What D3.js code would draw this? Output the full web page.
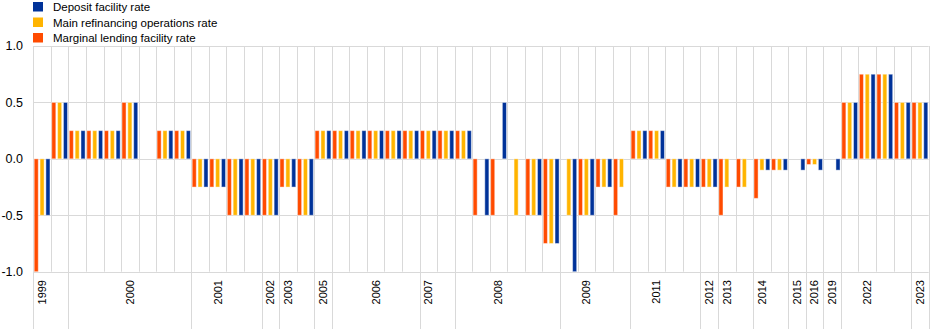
<!DOCTYPE html>
<html>
<head>
<meta charset="utf-8">
<script src="https://cdn.jsdelivr.net/npm/d3@7"></script>
<style>
  body { margin: 0; background: #fff; }
  text { font-family: "Liberation Sans", Arial, sans-serif; fill: #000; }
</style>
</head>
<body>
<div id="chart"></div>
<script>
// one entry per rate decision (percentage point change)
const years = [1999, 1999, 2000, 2000, 2000, 2000, 2000, 2000, 2000,
  2001, 2001, 2001, 2001, 2002, 2003, 2003, 2005,
  2006, 2006, 2006, 2006, 2006, 2007, 2007,
  2008, 2008, 2008, 2008, 2008, 2008, 2009, 2009, 2009, 2009,
  2011, 2011, 2011, 2011, 2012, 2013, 2013, 2014, 2014, 2015, 2016, 2019,
  2022, 2022, 2022, 2022, 2023];
const marginalLending = [-1.0, 0.5, 0.25, 0.25, 0.25, 0.5, 0, 0.25, 0.25,
  -0.25, -0.25, -0.5, -0.5, -0.5, -0.25, -0.5, 0.25,
  0.25, 0.25, 0.25, 0.25, 0.25, 0.25, 0.25,
  0.25, -0.5, -0.5, 0, -0.5, -0.75, 0, -0.5, -0.25, -0.5,
  0.25, 0.25, -0.25, -0.25, -0.25, -0.5, -0.25, -0.35, -0.1, 0, -0.05, 0,
  0.5, 0.75, 0.75, 0.5, 0.5];
const mainRefinancing = [-0.5, 0.5, 0.25, 0.25, 0.25, 0.5, 0, 0.25, 0.25,
  -0.25, -0.25, -0.5, -0.5, -0.5, -0.25, -0.5, 0.25,
  0.25, 0.25, 0.25, 0.25, 0.25, 0.25, 0.25,
  0.25, 0, 0, -0.5, -0.5, -0.75, -0.5, -0.5, -0.25, -0.25,
  0.25, 0.25, -0.25, -0.25, -0.25, -0.25, -0.25, -0.1, -0.1, 0, -0.05, 0,
  0.5, 0.75, 0.75, 0.5, 0.5];
const depositFacility = [-0.5, 0.5, 0.25, 0.25, 0.25, 0.5, 0, 0.25, 0.25,
  -0.25, -0.25, -0.5, -0.5, -0.5, -0.25, -0.5, 0.25,
  0.25, 0.25, 0.25, 0.25, 0.25, 0.25, 0.25,
  0.25, -0.5, 0.5, 0, -0.5, -0.75, -1.0, -0.5, -0.25, 0,
  0.25, 0.25, -0.25, -0.25, -0.25, 0, 0, -0.1, -0.1, -0.1, -0.1, -0.1,
  0.5, 0.75, 0.75, 0.5, 0.5];
const yTicks = [1.0, 0.5, 0.0, -0.5, -1.0];

const seriesNames = ["Deposit facility rate", "Main refinancing operations rate", "Marginal lending facility rate"];
const seriesColors = { "Deposit facility rate": "#003299", "Main refinancing operations rate": "#ffb400", "Marginal lending facility rate": "#ff4b00" };
// order of bars inside each group, left to right
const barOrder = ["Marginal lending facility rate", "Main refinancing operations rate", "Deposit facility rate"];
const seriesValues = {
  "Marginal lending facility rate": marginalLending,
  "Main refinancing operations rate": mainRefinancing,
  "Deposit facility rate": depositFacility
};

const width = 940, height = 329;
const margin = { top: 46, right: 11.3, bottom: 57.3, left: 33.3 };

const svg = d3.select("#chart").append("svg")
  .attr("width", width)
  .attr("height", height);

const idx = d3.range(years.length);

const x = d3.scaleBand()
  .domain(idx)
  .range([margin.left, width - margin.right])
  .padding(0);

const xInner = d3.scaleBand()
  .domain(barOrder)
  .range([0, x.bandwidth()])
  .paddingInner(0.3)
  .paddingOuter(0.15);

const y = d3.scaleLinear()
  .domain([-1, 1])
  .range([height - margin.bottom, margin.top]);

const grid = svg.append("g").attr("stroke", "#d9d9d9").attr("stroke-width", 1);

// horizontal gridlines
grid.selectAll(".hgrid")
  .data(yTicks)
  .join("line")
    .attr("class", "hgrid")
    .attr("x1", margin.left)
    .attr("x2", width - margin.right)
    .attr("y1", d => Math.round(y(d)) + 0.5)
    .attr("y2", d => Math.round(y(d)) + 0.5);

// vertical gridline at each group boundary, longer where a new year starts
const boundaries = idx.concat([years.length]);
const isYearStart = i => i === 0 || i === years.length || years[i] !== years[i - 1];
const bx = i => i === years.length ? x.range()[1] : x(i);

grid.selectAll(".vgrid")
  .data(boundaries)
  .join("line")
    .attr("class", "vgrid")
    .attr("x1", d => Math.round(bx(d)) + 0.5)
    .attr("x2", d => Math.round(bx(d)) + 0.5)
    .attr("y1", margin.top)
    .attr("y2", d => isYearStart(d) ? height : y(-1));

// y axis labels (plain hyphen for the minus sign)
svg.append("g")
  .selectAll("text")
  .data(yTicks)
  .join("text")
    .attr("x", 23)
    .attr("y", d => y(d))
    .attr("dy", "0.35em")
    .attr("text-anchor", "end")
    .style("font-size", "12.5px")
    .text(d => d3.format(".1f")(d).replace("\u2212", "-"));

// bars
const groups = svg.append("g")
  .selectAll("g")
  .data(idx)
  .join("g")
    .attr("transform", i => `translate(${x(i)},0)`);

groups.selectAll("rect")
  .data(i => barOrder.map(s => ({ series: s, value: seriesValues[s][i] })).filter(d => d.value !== 0))
  .join("rect")
    .attr("x", d => xInner(d.series))
    .attr("width", xInner.bandwidth())
    .attr("y", d => y(Math.max(0, d.value)))
    .attr("height", d => Math.abs(y(d.value) - y(0)))
    .attr("fill", d => seriesColors[d.series])
    .attr("stroke", "#fff")
    .attr("stroke-opacity", 0.45)
    .attr("stroke-width", 1);

// year labels, one under the middle decision of each year
const byYear = d3.groups(idx, i => years[i]);
const labelAt = byYear.map(([yr, list]) => ({ year: yr, i: list[Math.floor((list.length - 1) / 2)] }));

svg.append("g")
  .selectAll("text")
  .data(labelAt)
  .join("text")
    .attr("transform", d => `translate(${x(d.i) + x.bandwidth() / 2},280) rotate(-90)`)
    .attr("text-anchor", "end")
    .attr("dy", "0.35em")
    .style("font-size", "11px")
    .text(d => d.year);

// legend
const legend = svg.append("g")
  .selectAll("g")
  .data(seriesNames)
  .join("g")
    .attr("transform", (d, i) => `translate(33,${2 + i * 15.5})`);

legend.append("rect")
  .attr("width", 10)
  .attr("height", 9.5)
  .attr("fill", d => seriesColors[d]);

legend.append("text")
  .attr("x", 20)
  .attr("y", 9)
  .style("font-size", "11.5px")
  .text(d => d);
</script>
</body>
</html>
